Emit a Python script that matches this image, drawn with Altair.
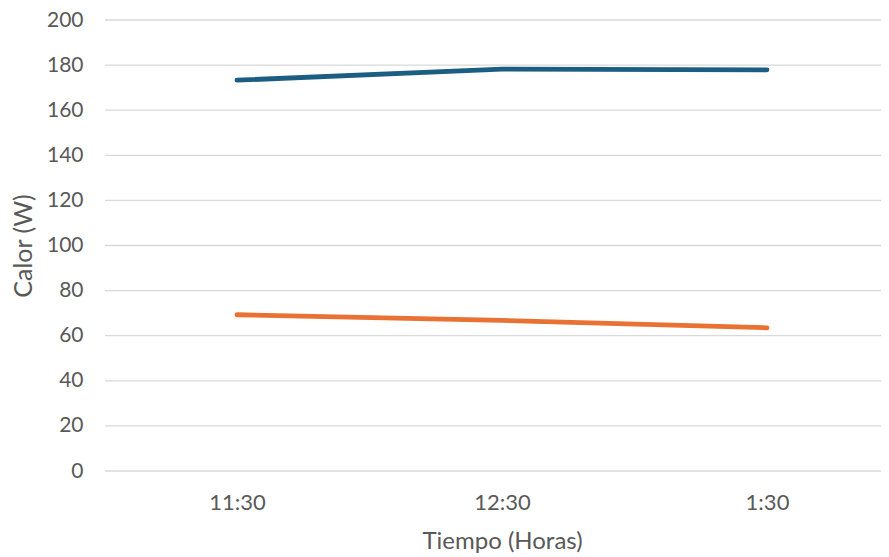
import altair as alt
import pandas as pd

tiempos = ["11:30", "12:30", "1:30"]
serie_azul = [173.3, 178.2, 177.9]
serie_naranja = [69.3, 66.8, 63.5]
series = ["Serie 1", "Serie 2"]
colores = ["#1b5e82", "#e97132"]
y_ticks = list(range(0, 201, 20))

rows = []
for t, v in zip(tiempos, serie_azul):
    rows.append({"Tiempo": t, "Calor": v, "Serie": series[0]})
for t, v in zip(tiempos, serie_naranja):
    rows.append({"Tiempo": t, "Calor": v, "Serie": series[1]})
df = pd.DataFrame(rows)
grid_df = pd.DataFrame({"Calor": y_ticks})

FONT = "Lato"
TXT = "#595959"
W, H = 776, 451

y_scale = alt.Scale(domain=[0, 200], nice=False)
y_axis = alt.Axis(title="Calor (W)", values=y_ticks, ticks=False, domain=False,
                  grid=False, labelPadding=22,
                  labelFontSize=21, labelColor=TXT, labelFont=FONT,
                  titleFont=FONT, titleFontSize=25, titleColor=TXT,
                  titleFontWeight="normal", titleX=-82, titleY=H / 2,
                  titleBaseline="middle", titleAlign="center", titleAngle=-90)

grid = alt.Chart(grid_df).mark_rule(color="#d9d9d9", strokeWidth=1.3).encode(
    y=alt.Y("Calor:Q", scale=y_scale, axis=y_axis),
    x=alt.value(0),
    x2=alt.value(W),
)

lines = alt.Chart(df).mark_line(strokeWidth=4.8, strokeCap="round", strokeJoin="round").encode(
    x=alt.X("Tiempo:O", sort=tiempos,
            scale=alt.Scale(type="point", range=[132, 662], padding=0),
            axis=alt.Axis(title="Tiempo (Horas)", labelAngle=0, ticks=False, domain=False,
                          grid=False, labelPadding=21, labelFontSize=22, labelColor=TXT,
                          labelFont=FONT, titleFont=FONT, titleFontSize=24, titleColor=TXT,
                          titleFontWeight="normal", titleY=77, titleBaseline="alphabetic")),
    y=alt.Y("Calor:Q", scale=y_scale, axis=y_axis),
    color=alt.Color("Serie:N", scale=alt.Scale(domain=series, range=colores), legend=None),
)

chart = alt.layer(grid, lines).properties(
    width=W, height=H,
    autosize=alt.AutoSizeParams(type="none"),
    padding={"left": 97, "top": 12, "right": 0, "bottom": 84},
).configure_view(stroke=None)

chart.save("out.html", embed_options={"renderer": "svg", "actions": False})
